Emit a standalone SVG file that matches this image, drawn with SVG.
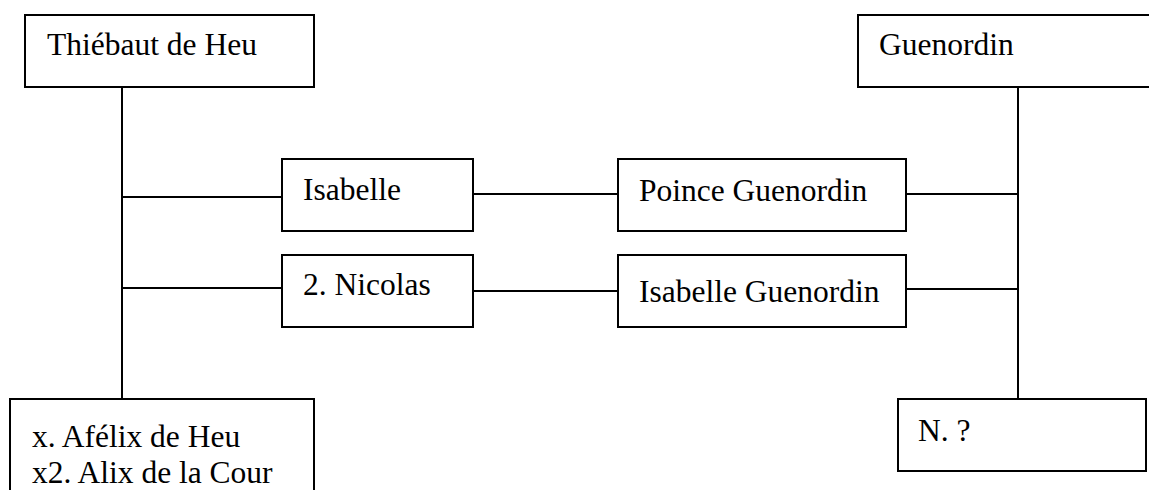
<svg xmlns="http://www.w3.org/2000/svg" width="1149" height="490" viewBox="0 0 1149 490">
<style>
.box{fill:#fff;stroke:#000;stroke-width:2}
.ln{stroke:#000;stroke-width:2;fill:none}
.t{font-family:'Liberation Serif','Times New Roman',Times,'DejaVu Serif',serif;font-size:31.5px;fill:#000}
</style>
<rect width="1149" height="490" fill="#fff"/>
<g id="connectors">
<line class="ln" x1="122" y1="87" x2="122" y2="399"/>
<line class="ln" x1="1018" y1="87" x2="1018" y2="399"/>
<line class="ln" x1="122" y1="197" x2="282" y2="197"/>
<line class="ln" x1="122" y1="288" x2="282" y2="288"/>
<line class="ln" x1="473" y1="194" x2="618" y2="194"/>
<line class="ln" x1="473" y1="291" x2="618" y2="291"/>
<line class="ln" x1="906" y1="194" x2="1018" y2="194"/>
<line class="ln" x1="906" y1="289" x2="1018" y2="289"/>
</g>
<g id="thiebaut">
<rect class="box" x="25" y="15" width="289" height="72"/>
<text class="t" x="47" y="55">Thiébaut de Heu</text>
</g>
<g id="guenordin">
<rect class="box" x="858" y="15" width="310" height="72"/>
<text class="t" x="879" y="55">Guenordin</text>
</g>
<g id="isabelle">
<rect class="box" x="282" y="159" width="191" height="72"/>
<text class="t" x="303" y="200">Isabelle</text>
</g>
<g id="nicolas">
<rect class="box" x="282" y="255" width="191" height="72"/>
<text class="t" x="303" y="295">2. Nicolas</text>
</g>
<g id="poince">
<rect class="box" x="618" y="159" width="288" height="72"/>
<text class="t" x="639" y="201">Poince Guenordin</text>
</g>
<g id="isabelle-guenordin">
<rect class="box" x="618" y="255" width="288" height="72"/>
<text class="t" x="639" y="302">Isabelle Guenordin</text>
</g>
<g id="afelix">
<rect class="box" x="10" y="399" width="304" height="110"/>
<text class="t" x="32" y="447">x. Afélix de Heu</text>
<text class="t" x="32" y="483">x2. Alix de la Cour</text>
</g>
<g id="n">
<rect class="box" x="898" y="399" width="248" height="72"/>
<text class="t" x="918" y="441">N. ?</text>
</g>
</svg>
